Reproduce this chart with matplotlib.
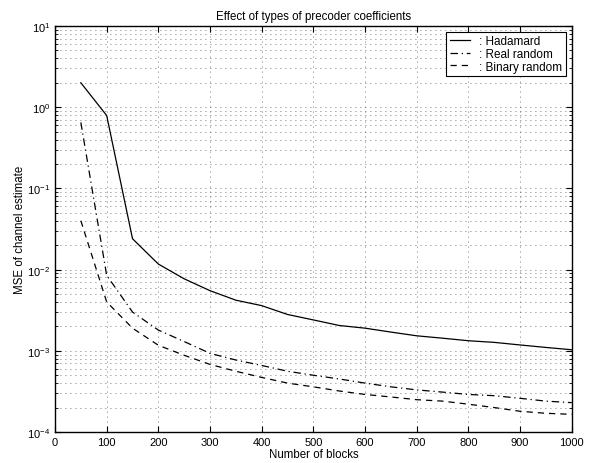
import matplotlib
matplotlib.use("Agg")
import matplotlib.pyplot as plt
import numpy as np
from matplotlib.ticker import LogLocator, NullFormatter, MultipleLocator

plt.rcParams['font.family'] = ['Liberation Sans', 'DejaVu Sans']
plt.rcParams['mathtext.fontset'] = 'custom'
plt.rcParams['mathtext.rm'] = 'Liberation Sans'
plt.rcParams['mathtext.it'] = 'Liberation Sans'
plt.rcParams['font.size'] = 8

blocks = np.arange(50, 1001, 50)

hadamard = [2.0, 0.79, 0.024, 0.0117, 0.0077, 0.0055, 0.0042, 0.0036, 0.0028, 0.0024,
            0.00205, 0.0019, 0.0017, 0.00153, 0.00143, 0.00133, 0.00127, 0.00118, 0.0011, 0.00103]
real_random = [0.65, 0.0085, 0.003, 0.0018, 0.0013, 0.00093, 0.00077, 0.00066, 0.00056, 0.0005,
               0.00045, 0.0004, 0.00036, 0.00033, 0.00031, 0.00029, 0.00028, 0.00026, 0.00024, 0.00023]
binary_random = [0.04, 0.004, 0.0019, 0.00117, 0.00088, 0.00068, 0.00056, 0.00047, 0.0004, 0.00036,
                 0.00032, 0.00029, 0.00027, 0.00025, 0.00024, 0.00022, 0.0002, 0.00018, 0.00017, 0.000165]

fig = plt.figure(figsize=(5.92, 4.64), dpi=100)
ax = fig.add_axes([0.0929, 0.0668, 0.873, 0.875])

ax.semilogy(blocks, hadamard, 'k-', lw=0.9, label=': Hadamard')
ax.semilogy(blocks, real_random, 'k', ls=(0, (6, 3, 1, 3)), lw=0.9, label=': Real random')
ax.semilogy(blocks, binary_random, 'k', ls=(0, (5, 4)), lw=0.9, label=': Binary random')

ax.set_xlim(0, 1000)
ax.set_ylim(1e-4, 1e1)
ax.xaxis.set_major_locator(MultipleLocator(100))
ax.yaxis.set_major_locator(LogLocator(base=10, numticks=10))
ax.yaxis.set_minor_locator(LogLocator(base=10, subs=np.arange(2, 10), numticks=10))
ax.yaxis.set_minor_formatter(NullFormatter())

ax.grid(True, which='major', ls=(0, (1, 5)), color='0.3', lw=0.6)
ax.grid(True, which='minor', axis='y', ls=(0, (1, 5)), color='0.3', lw=0.6)
ax.tick_params(which='both', direction='in', top=True, right=True, labelsize=8)
ax.tick_params(which='major', length=4)
ax.tick_params(which='minor', length=2)
for s in ax.spines.values():
    s.set_linewidth(1.0)

ax.set_xlabel('Number of blocks', fontsize=8.3, labelpad=1)
ax.set_ylabel('MSE of channel estimate', fontsize=8.3, labelpad=1)
ax.set_title('Effect of types of precoder coefficients', fontsize=8.3, pad=5)

leg = ax.legend(loc='upper right', fancybox=False, edgecolor='k', framealpha=1,
                handlelength=1.7, borderaxespad=0.5, labelspacing=0.05, handletextpad=0.8,
                borderpad=0.3, fontsize=8.5)
leg.get_frame().set_linewidth(0.8)

fig.savefig('out.png', dpi=100)
